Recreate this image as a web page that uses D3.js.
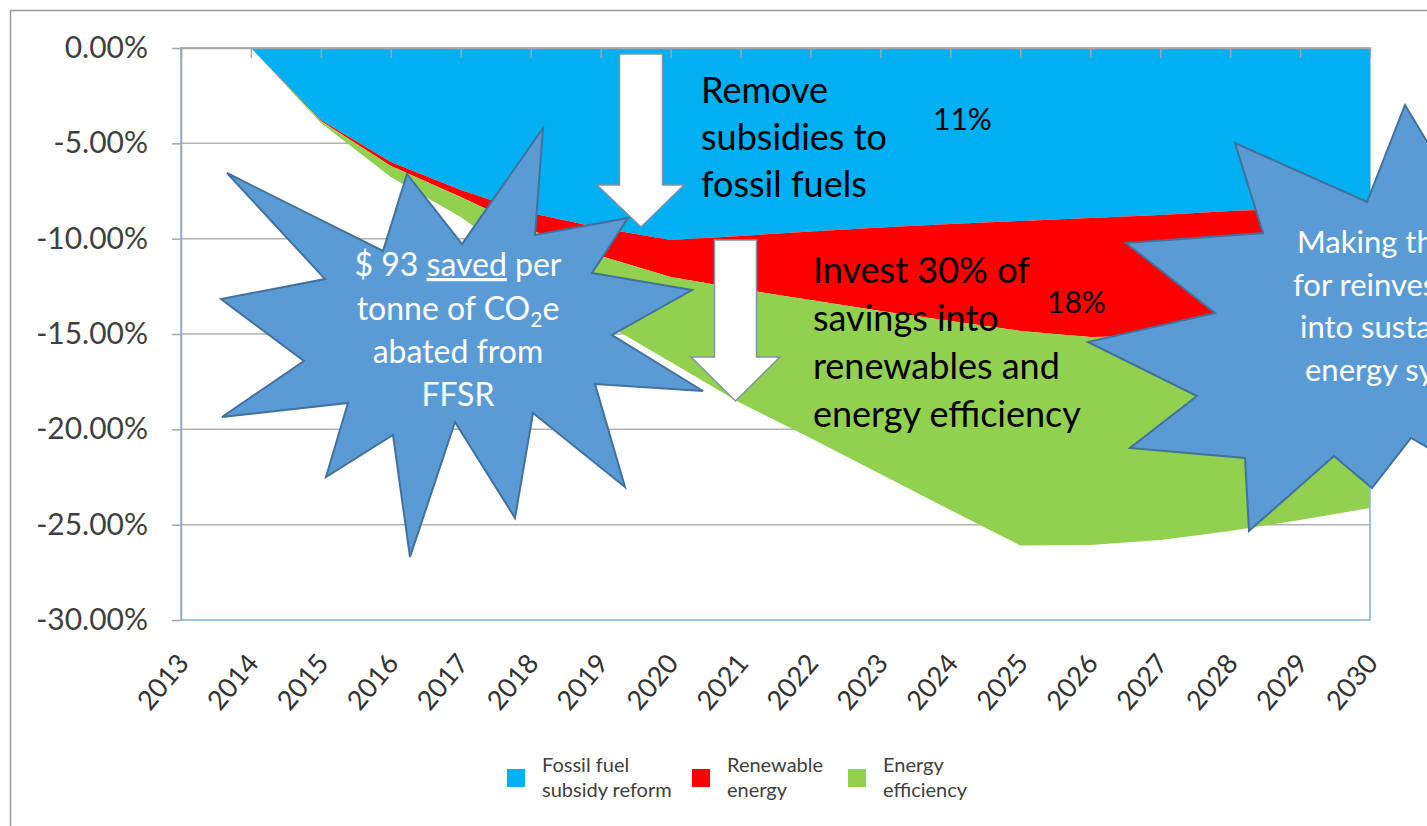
<!DOCTYPE html>
<html>
<head>
<meta charset="utf-8">
<script src="https://cdn.jsdelivr.net/npm/d3@7"></script>
<style>
  body { margin: 0; background: #fff; }
  svg { display: block; font-family: Lato, "Open Sans", sans-serif; }
</style>
</head>
<body>
<svg id="chart" width="1427" height="826"></svg>
<script>
// values (% change, stacked downwards)
let years = ["2013", "2014", "2015", "2016", "2017", "2018", "2019", "2020", "2021",
  "2022", "2023", "2024", "2025", "2026", "2027", "2028", "2029", "2030"];
let fossil = [0, 0, -3.78, -5.98, -7.45, -8.65, -9.44, -10.07, -9.86, -9.62, -9.41,
  -9.23, -9.07, -8.92, -8.76, -8.55, -8.42, -8.29];
let renewable = [0, 0, -0.05, -0.21, -0.36, -0.9, -1.47, -1.94, -2.78, -3.6, -4.38,
  -5.09, -5.77, -6.24, -6.34, -6.4, -6.37, -6.34];
let efficiency = [0, 0, -0.1, -0.58, -1.05, -1.99, -3.41, -4.46, -5.98, -7.23, -8.55,
  -9.91, -11.25, -10.91, -10.7, -10.38, -9.96, -9.5];
let yTicks = [0, -5, -10, -15, -20, -25, -30];
let seriesKeys = ["fossil", "renewable", "efficiency"];
let seriesColors = ["#00B0F0", "#FF0000", "#92D050"];
let legendLines = [["Fossil fuel", "subsidy reform"], ["Renewable", "energy"], ["Energy", "efficiency"]];

let margin = { top: 48, right: 57, bottom: 206, left: 181 },
  width = 1427 - margin.left - margin.right,
  height = 826 - margin.top - margin.bottom;

let svg = d3.select("#chart");

// outer chart frame
svg.append("rect")
  .attr("x", 10.5).attr("y", 10.5)
  .attr("width", 1440).attr("height", 840)
  .attr("fill", "none").attr("stroke", "#9a9a9a").attr("stroke-width", 1.5);

let g = svg.append("g")
  .attr("transform", "translate(" + margin.left + "," + margin.top + ")");

let x = d3.scalePoint().domain(years).range([0, width]);
let y = d3.scaleLinear().domain([-30, 0]).range([height, 0]);

// plot area border (light blue on bottom/right)
g.append("rect")
  .attr("width", width).attr("height", height)
  .attr("fill", "none").attr("stroke", "#9DC3E6").attr("stroke-width", 2);

// gridlines
g.selectAll(".grid")
  .data(yTicks.filter((d) => d !== -30))
  .enter()
  .append("line")
  .attr("x1", 0).attr("x2", width)
  .attr("y1", (d) => y(d)).attr("y2", (d) => y(d))
  .attr("stroke", "#b0b0b0").attr("stroke-width", 1.5);

// stacked areas
let rows = years.map((yr, i) => ({
  year: yr, fossil: fossil[i], renewable: renewable[i], efficiency: efficiency[i],
}));
let stacked = d3.stack().keys(seriesKeys)(rows);
let area = d3.area()
  .x((d) => x(d.data.year))
  .y0((d) => y(d[0]))
  .y1((d) => y(d[1]));

g.selectAll(".layer")
  .data(stacked)
  .enter()
  .append("path")
  .attr("d", area)
  .attr("fill", (d, i) => seriesColors[i]);

// y axis
let yAxis = g.append("g")
  .call(d3.axisLeft(y).tickValues(yTicks).tickSizeInner(9).tickSizeOuter(0).tickPadding(24)
    .tickFormat((d) => d.toFixed(2) + "%"));
yAxis.select(".domain").attr("stroke", "#a6a6a6").attr("stroke-width", 1.5);
yAxis.selectAll(".tick line").attr("stroke", "#a6a6a6").attr("stroke-width", 1.5);
yAxis.selectAll(".tick text")
  .attr("font-size", 30).attr("fill", "#404040")
  .style("font-family", "Lato, sans-serif");

// category axis at 0% with ticks pointing down
let xAxis = g.append("g")
  .call(d3.axisBottom(x).tickSizeInner(10).tickSizeOuter(0).tickFormat(""));
xAxis.select(".domain").attr("stroke", "#a6a6a6").attr("stroke-width", 1.5);
xAxis.selectAll(".tick line").attr("stroke", "#a6a6a6").attr("stroke-width", 1.5);

// rotated year labels at the bottom
g.selectAll(".yearLabel")
  .data(years)
  .enter()
  .append("text")
  .attr("transform", (d) => "translate(" + (x(d) + 2) + "," + (height + 38) + ") rotate(-50)")
  .attr("text-anchor", "end")
  .attr("dy", "0.35em")
  .attr("font-size", 27)
  .attr("fill", "#333")
  .text((d) => d);

// block arrows
let arrows = [
  [[619.5, 54], [662.5, 54], [662.5, 185], [684, 185], [641, 227], [597, 185], [619.5, 185]],
  [[714.5, 240], [756.5, 240], [756.5, 357], [780, 357], [735.5, 401], [691, 357], [714.5, 357]],
];
svg.selectAll(".arrow")
  .data(arrows)
  .enter()
  .append("polygon")
  .attr("points", (d) => d.join(" "))
  .attr("fill", "#fff").attr("stroke", "#8092aa").attr("stroke-width", 1.5);

// annotation text
let blackNotes = [
  { x: 701, y: 103, size: 36, t: "Remove" },
  { x: 701, y: 150, size: 36, t: "subsidies to" },
  { x: 701, y: 197, size: 36, t: "fossil fuels" },
  { x: 813, y: 283, size: 36, t: "Invest 30% of" },
  { x: 813, y: 331, size: 36, t: "savings into" },
  { x: 813, y: 379, size: 36, t: "renewables and" },
  { x: 813, y: 427, size: 36, t: "energy efficiency" },
  { x: 933, y: 130, size: 30, t: "11%" },
  { x: 1047, y: 313, size: 30, t: "18%" },
];
svg.selectAll(".note")
  .data(blackNotes)
  .enter()
  .append("text")
  .attr("x", (d) => d.x).attr("y", (d) => d.y)
  .attr("font-size", (d) => d.size)
  .attr("fill", "#000")
  .text((d) => d.t);

// explosion callouts
let star1 = [[543, 128], [535, 235], [628, 218], [592, 273], [692, 290], [612, 335], [703, 391],
  [595, 384], [625, 487], [533, 413], [515, 518], [455, 422], [410, 557], [393, 435], [326, 477],
  [348, 403], [222, 417], [304, 361], [221, 299], [325, 279], [227, 173], [383, 251], [407, 174],
  [462, 244]];
let star2 = [[1235, 143], [1367, 202], [1405, 105], [1450, 180], [1560, 150], [1520, 300],
  [1560, 420], [1450, 460], [1411, 438], [1372, 488], [1334, 456], [1249, 531], [1245, 458],
  [1130, 448], [1197, 396], [1088, 342], [1215, 313], [1126, 243], [1263, 233]];
svg.selectAll(".star")
  .data([star1, star2])
  .enter()
  .append("polygon")
  .attr("points", (d) => d.join(" "))
  .attr("fill", "#5B9BD5").attr("stroke", "#41719C").attr("stroke-width", 2)
  .attr("stroke-linejoin", "miter");

// star 1 text
let s1 = svg.append("text")
  .attr("text-anchor", "middle").attr("fill", "#fff").attr("font-size", 32);
let l1 = s1.append("tspan").attr("x", 458).attr("y", 276);
l1.append("tspan").text("$ 93 ");
l1.append("tspan").attr("text-decoration", "underline").text("saved");
l1.append("tspan").text(" per");
let l2 = s1.append("tspan").attr("x", 458).attr("y", 320);
l2.append("tspan").text("tonne of CO");
l2.append("tspan").attr("font-size", 21).attr("dy", 7).text("2");
l2.append("tspan").attr("dy", -7).text("e");
s1.append("tspan").attr("x", 458).attr("y", 363).text("abated from");
s1.append("tspan").attr("x", 458).attr("y", 406).text("FFSR");

// star 2 text (runs off the right edge, as in the original)
let s2Lines = ["Making the case", "for reinvestment", "into sustainable", "energy systems"];
svg.selectAll(".s2")
  .data(s2Lines)
  .enter()
  .append("text")
  .attr("x", 1297)
  .attr("y", (d, i) => 253 + i * 42.5)
  .attr("dx", (d, i) => [0, -4, 3, 8][i])
  .attr("fill", "#fff")
  .attr("font-size", 31)
  .text((d) => d);

// legend
let legendX = [507, 692, 848];
let leg = svg.selectAll(".legend")
  .data(legendLines)
  .enter()
  .append("g")
  .attr("transform", (d, i) => "translate(" + legendX[i] + ",0)");
leg.append("rect")
  .attr("x", 0).attr("y", 769).attr("width", 18).attr("height", 18)
  .attr("fill", (d, i) => seriesColors[i]);
leg.append("text")
  .attr("x", 35).attr("y", 772)
  .attr("font-size", 20).attr("fill", "#404040")
  .text((d) => d[0]);
leg.append("text")
  .attr("x", 35).attr("y", 797)
  .attr("font-size", 20).attr("fill", "#404040")
  .text((d) => d[1]);
</script>
</body>
</html>
